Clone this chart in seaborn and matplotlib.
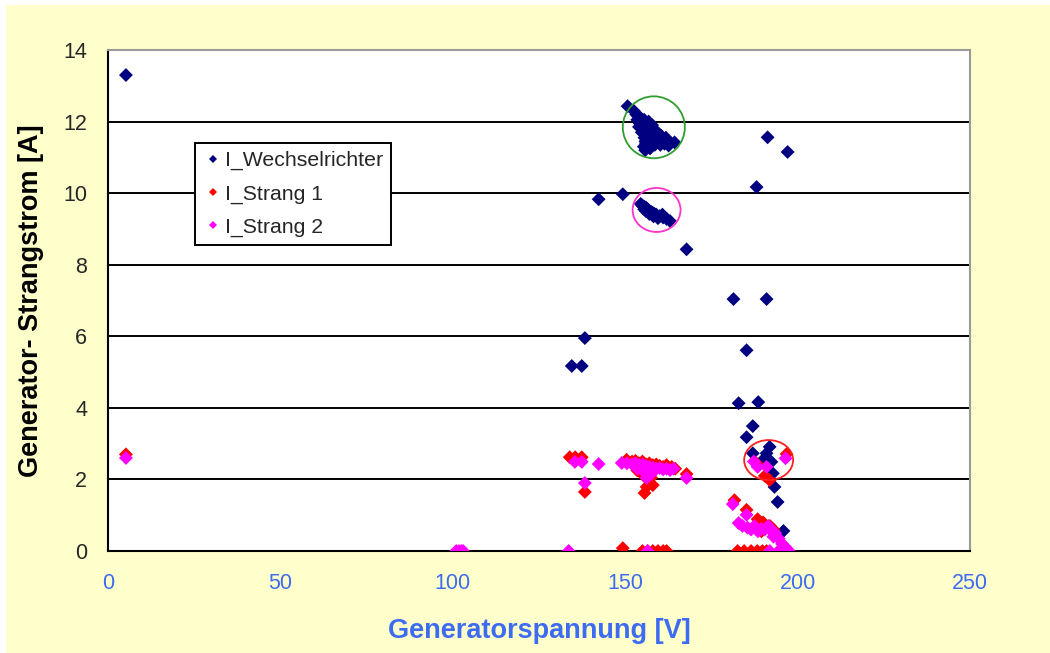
import matplotlib
matplotlib.use("Agg")
import matplotlib.pyplot as plt
import seaborn as sns
import pandas as pd
from matplotlib.patches import Ellipse, Rectangle

# ---------------- data ----------------
wr_v = [5.2, 150.7, 142.3, 149.3, 167.8, 134.5, 137.4, 138.3,
        181.4, 191.0, 185.2, 182.9, 188.6, 187.0, 185.2, 187.0, 191.9, 191.0,
        192.4, 192.8, 193.3, 194.2, 195.9, 191.3, 197.1, 188.1, 189.9,
        # cluster (green circle)
        152.5, 153.2, 153.8, 154.5, 155.0, 155.5, 154.2, 156.0, 156.5, 155.2,
        157.0, 157.5, 156.2, 158.0, 158.5, 155.6, 159.0, 160.0, 161.0, 162.0,
        163.0, 164.3, 156.0, 157.0, 155.4, 158.2, 159.5, 157.8, 156.8, 155.8,
        153.5, 154.8, 156.3, 157.3, 158.8, 160.5, 161.8, 159.8, 157.2, 156.6,
        155.9, 157.6, 158.6, 160.2, 161.4, 162.6, 156.4, 154.0,
        # cluster (pink circle)
        154.5, 155.0, 155.5, 156.0, 156.5, 157.0, 157.5, 158.0, 158.5, 159.0,
        160.0, 161.0, 162.0, 163.0, 156.0, 157.0, 158.2, 155.5, 159.5, 160.8]
wr_i = [13.3, 12.43, 9.83, 9.97, 8.43, 5.17, 5.17, 5.95,
        7.04, 7.04, 5.61, 4.13, 4.16, 3.49, 3.18, 2.73, 2.91, 2.73,
        2.49, 2.17, 1.79, 1.37, 0.56, 11.56, 11.15, 10.17, 2.54,
        12.30, 12.20, 12.15, 12.10, 12.00, 12.05, 11.95, 11.90, 11.85, 11.80,
        11.75, 11.70, 11.65, 11.60, 11.55, 11.55, 11.50, 11.45, 11.50, 11.45,
        11.40, 11.42, 11.40, 11.35, 11.30, 11.45, 11.60, 11.90, 12.00, 11.20,
        12.05, 11.70, 11.50, 11.55, 11.75, 11.60, 11.55, 11.65, 11.25, 11.30,
        11.45, 11.40, 11.35, 11.35, 11.38, 11.33, 11.70, 11.85,
        9.70, 9.65, 9.62, 9.60, 9.55, 9.50, 9.48, 9.45, 9.42, 9.40,
        9.36, 9.32, 9.28, 9.22, 9.50, 9.42, 9.35, 9.55, 9.30, 9.40]

s1_v = [5.2, 133.9, 135.5, 137.4, 138.3, 149.3,
        150.4, 152.0, 153.0, 154.0, 155.0, 156.0, 157.0, 158.0, 159.0, 160.0,
        161.0, 162.0, 163.5, 164.5, 167.8, 154.5, 155.5, 156.5, 157.5, 158.0,
        156.2, 155.6, 153.5,
        155.0, 156.5, 158.0, 159.5, 161.0, 162.0,
        181.7, 185.2, 188.4, 191.9, 188.1, 196.8, 190.0, 192.0, 193.0, 189.5,
        182.6, 184.5, 186.5, 188.3, 189.8, 191.0, 190.5]
s1_i = [2.70, 2.62, 2.62, 2.62, 1.65, 0.08,
        2.55, 2.50, 2.52, 2.45, 2.50, 2.42, 2.45, 2.40, 2.42, 2.38,
        2.35, 2.40, 2.35, 2.30, 2.15, 2.20, 2.10, 2.00, 2.05, 1.84,
        1.79, 1.62, 2.25,
        0.0, 0.0, 0.0, 0.0, 0.0, 0.0,
        1.42, 1.15, 0.89, 1.98, 2.45, 2.71, 0.80, 0.70, 0.60, 0.55,
        0.0, 0.0, 0.0, 0.0, 0.0, 0.0, 2.10]

s2_v = [5.2, 101.0, 101.8, 102.5, 103.0, 133.6, 135.4, 137.4, 142.3, 138.3,
        149.0, 150.5, 152.0, 153.0, 154.0, 155.0, 156.0, 157.0, 158.0, 159.0,
        160.0, 161.0, 162.0, 163.0, 164.0, 167.8, 156.2, 155.0, 157.5, 153.5,
        156.5,
        181.2, 185.2, 182.9, 184.0, 185.5, 186.5, 187.5, 188.5, 189.5, 190.5,
        191.5, 192.5, 193.5, 188.4, 191.0, 196.5, 187.3, 191.9, 194.5, 195.5,
        196.5, 197.5, 195.0, 193.0]
s2_i = [2.60, 0.0, 0.0, 0.0, 0.0, 0.0, 2.49, 2.49, 2.43, 1.90,
        2.46, 2.45, 2.43, 2.45, 2.40, 2.42, 2.38, 2.35, 2.33, 2.30,
        2.32, 2.28, 2.30, 2.26, 2.30, 2.04, 2.04, 2.25, 2.15, 2.30,
        0.0,
        1.31, 1.01, 0.78, 0.70, 0.65, 0.60, 0.70, 0.55, 0.62, 0.60,
        0.70, 0.55, 0.50, 2.35, 2.35, 2.59, 2.50, 0.0, 0.35, 0.20,
        0.10, 0.0, 0.05, 0.40]

series_names = ["I_Wechselrichter", "I_Strang 1", "I_Strang 2"]
series_colors = ["#000080", "#FF0000", "#FF00FF"]

# highlight circles: (center V, center I, width V, height A, color)
circle_cx = [158.3, 159.1, 191.6]
circle_cy = [11.84, 9.53, 2.54]
circle_w = [18.0, 13.9, 14.2]
circle_h = [1.73, 1.23, 1.12]
circle_col = ["#2E9E2E", "#FF33CC", "#FF2020"]

x_ticks = [0, 50, 100, 150, 200, 250]
y_ticks = [0, 2, 4, 6, 8, 10, 12, 14]

# ---------------- build ----------------
df = pd.concat([
    pd.DataFrame({"V": wr_v, "I": wr_i, "Serie": series_names[0]}),
    pd.DataFrame({"V": s1_v, "I": s1_i, "Serie": series_names[1]}),
    pd.DataFrame({"V": s2_v, "I": s2_i, "Serie": series_names[2]}),
], ignore_index=True)

sns.set_style("white")
plt.rcParams["font.family"] = ["Liberation Sans", "DejaVu Sans"]

fig = plt.figure(figsize=(10.5, 6.53), dpi=100, facecolor="white")
fig.patches.append(Rectangle((6 / 1050, 0), 1.0, 1 - 5 / 653, transform=fig.transFigure,
                             facecolor="#FFFFCC", edgecolor="none", zorder=-10))
ax = fig.add_axes([108 / 1050, 1 - 551 / 653, 862 / 1050, 501 / 653])
ax.set_facecolor("white")

sns.scatterplot(data=df, x="V", y="I", hue="Serie", hue_order=series_names,
                palette=series_colors, marker="D", s=50, linewidth=0,
                ax=ax, zorder=3, legend=True)

for cx, cy, w, h, c in zip(circle_cx, circle_cy, circle_w, circle_h, circle_col):
    ax.add_patch(Ellipse((cx, cy), w, h, fill=False, edgecolor=c, linewidth=1.3, zorder=4))

ax.set_xlim(0, 250)
ax.set_ylim(0, 14)
ax.set_xticks(x_ticks)
ax.set_yticks(y_ticks)
ax.yaxis.grid(True, color="black", linewidth=1.4)
ax.set_axisbelow(True)
ax.tick_params(axis="both", direction="out", length=7, width=1.4, color="black",
               labelsize=15.5, pad=5)
ax.tick_params(axis="x", labelcolor="#3D6BF2", pad=9)
ax.tick_params(axis="y", pad=8)
for side in ["left", "bottom"]:
    ax.spines[side].set_color("black")
    ax.spines[side].set_linewidth(1.5)
for side in ["top", "right"]:
    ax.spines[side].set_color("#9A9A9A")
    ax.spines[side].set_linewidth(1.5)

ax.set_xlabel("Generatorspannung [V]", fontsize=19.5, fontweight="bold", color="#3D6BF2",
              labelpad=17)
ax.set_ylabel("Generator- Strangstrom [A]", fontsize=19.5, fontweight="bold", color="black",
              labelpad=14)

handles, labels = ax.get_legend_handles_labels()
leg = ax.legend(handles, labels, loc="upper left", bbox_to_anchor=(0.101, 0.815),
                borderaxespad=0, frameon=True, fancybox=False, fontsize=15.3,
                handletextpad=0.1, handlelength=0.9, markerscale=0.6,
                labelspacing=0.66, borderpad=0.4)
leg.get_frame().set_edgecolor("black")
leg.get_frame().set_linewidth(1.4)
leg.get_frame().set_facecolor("white")
leg.get_frame().set_alpha(1)
leg.set_zorder(5)

fig.savefig("out.png", dpi=100, facecolor=fig.get_facecolor())
